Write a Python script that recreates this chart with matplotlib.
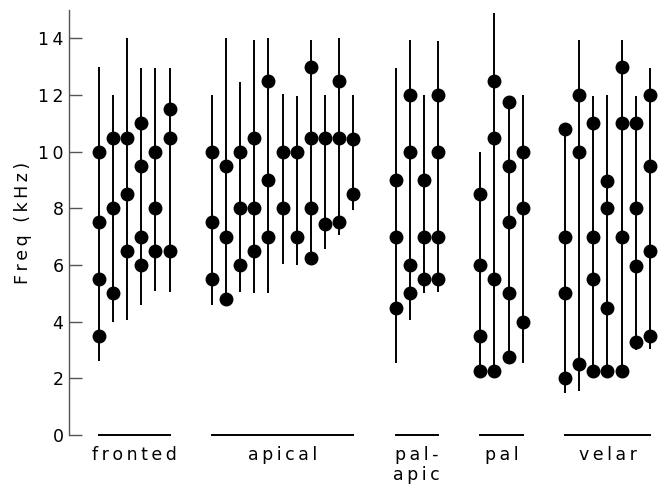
import matplotlib
matplotlib.use("Agg")
import matplotlib.pyplot as plt

# Frequency ranges (kHz) per token column: line from lo to hi, dots at peaks
fronted_lo = [2.6, 4.0, 4.05, 4.6, 5.1, 5.05]
fronted_hi = [13.0, 12.0, 14.0, 12.95, 12.95, 12.95]
fronted_pts = [[10, 7.5, 5.5, 3.5], [10.5, 8, 5], [10.5, 8.5, 6.5],
               [11, 9.5, 7, 6], [10, 8, 6.5], [11.5, 10.5, 6.5]]

apical_lo = [4.6, 4.8, 5.05, 5.0, 5.0, 6.05, 6.0, 6.1, 6.55, 7.05, 7.95]
apical_hi = [12.0, 14.0, 12.45, 13.95, 14.0, 12.05, 11.95, 13.95, 12.0, 14.0, 12.0]
apical_pts = [[10, 7.5, 5.5], [9.5, 7, 4.8], [10, 8, 6], [10.5, 8, 6.5],
              [12.5, 9, 7], [10, 8], [10, 7], [13, 10.5, 8, 6.25],
              [10.5, 7.45], [12.5, 10.5, 7.5], [10.45, 8.5]]

palapic_lo = [2.55, 4.05, 5.0, 5.05]
palapic_hi = [12.95, 13.95, 12.0, 13.9]
palapic_pts = [[9, 7, 4.5], [12, 10, 6, 5], [9, 7, 5.5], [12, 10, 7, 5.5]]

pal_lo = [2.25, 2.25, 2.7, 2.55]
pal_hi = [10.0, 14.9, 11.75, 12.0]
pal_pts = [[8.5, 6, 3.5, 2.25], [12.5, 10.5, 5.5, 2.25],
           [11.75, 9.5, 7.5, 5, 2.75], [10, 8, 4]]

velar_lo = [1.5, 1.55, 2.25, 2.25, 2.25, 3.0, 3.05]
velar_hi = [10.8, 13.95, 11.95, 12.0, 13.95, 11.95, 12.95]
velar_pts = [[10.8, 7, 5, 2], [12, 10, 2.5], [11, 7, 5.5, 2.25],
             [8.95, 8, 4.5, 2.25], [13, 11, 7, 2.25], [11, 8, 5.95, 3.3],
             [12, 9.5, 6.5, 3.5]]

group_names = ["fronted", "apical", "pal-\napic", "pal", "velar"]
groups = [
    (fronted_lo, fronted_hi, fronted_pts),
    (apical_lo, apical_hi, apical_pts),
    (palapic_lo, palapic_hi, palapic_pts),
    (pal_lo, pal_hi, pal_pts),
    (velar_lo, velar_hi, velar_pts),
]
y_ticks = [0, 2, 4, 6, 8, 10, 12, 14]

GAP = 3          # slot distance between neighbouring groups
TS = "\u2009"    # thin space for the wide lettering
FS = 12.5


def spaced(s):
    return "\n".join(TS.join(line) for line in s.split("\n"))


plt.rcParams["font.family"] = ["DejaVu Sans"]
fig = plt.figure(figsize=(6.64, 4.86), dpi=100)
ax = fig.add_axes([69 / 664, 51 / 486, 1 - 69 / 664, 425 / 486])

x = 0
for name, (lo, hi, pts) in zip(group_names, groups):
    xs = []
    for l, h, p in zip(lo, hi, pts):
        ax.plot([x, x], [l, h], color="black", lw=1.4, solid_capstyle="butt",
                zorder=2)
        ax.plot([x] * len(p), p, "o", color="black", ms=9.0, zorder=3)
        xs.append(x)
        x += 1
    # group underline along the baseline
    ax.plot([xs[0], xs[-1]], [0, 0], color="black", lw=1.4, clip_on=False,
            zorder=2)
    ax.text((xs[0] + xs[-1]) / 2, -0.4, spaced(name), ha="center", va="top",
            fontsize=FS, linespacing=1.15)
    x += GAP - 1

ax.set_xlim(-2.12, 40.0)
ax.set_ylim(0, 15)

for side in ["top", "right", "bottom"]:
    ax.spines[side].set_visible(False)
ax.spines["left"].set_linewidth(1.0)
ax.spines["left"].set_color("#555555")

ax.set_xticks([])
ax.set_yticks(y_ticks)
ax.set_yticklabels([spaced(str(t)) for t in y_ticks], fontsize=FS)
ax.tick_params(axis="y", direction="in", length=9.5, width=1.0, pad=4,
               color="#555555")
ax.set_ylabel(spaced("Freq (kHz)"), fontsize=FS, labelpad=4)

fig.savefig("out.png", dpi=100)
